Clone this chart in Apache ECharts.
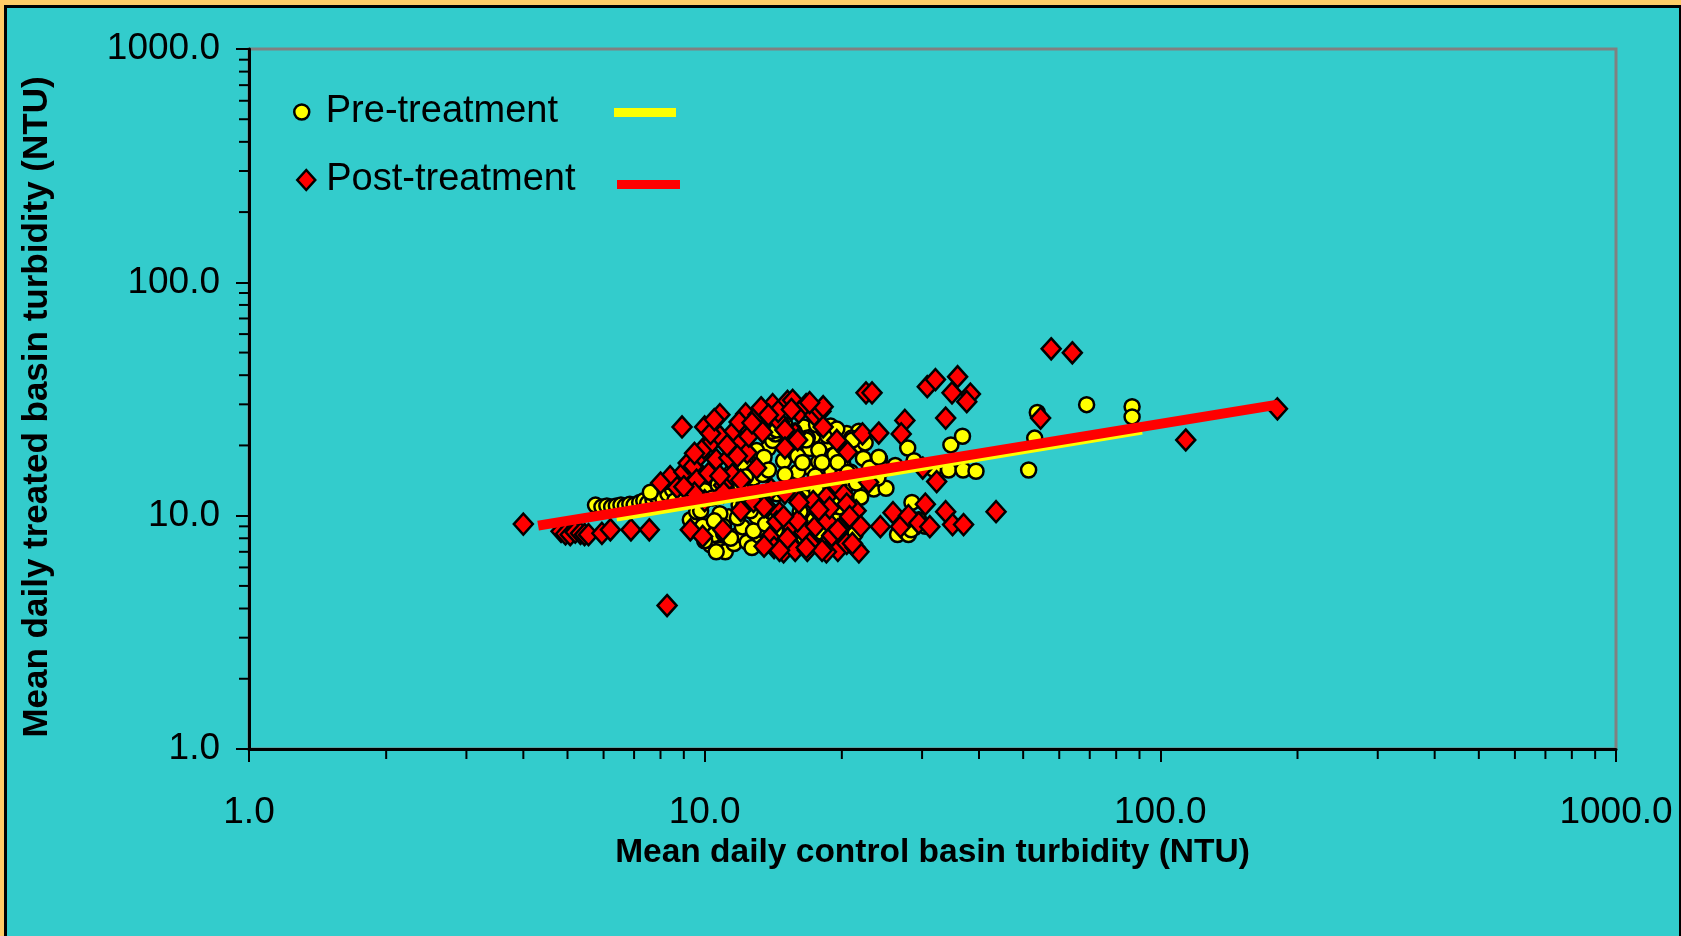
<!DOCTYPE html>
<html>
<head>
<meta charset="utf-8">
<title>Turbidity scatter</title>
<script src="https://cdn.jsdelivr.net/npm/echarts@6.0.0/dist/echarts.min.js"></script>
<style>
html, body { margin: 0; padding: 0; overflow: hidden; width: 1681px; height: 936px; background: #FFCC66; }
#frame { position: absolute; left: 4px; top: 5px; width: 1678px; height: 940px; box-sizing: border-box; border: 3px solid #000; background: #33CCCC; }
#chart { width: 1672px; height: 934px; }
</style>
</head>
<body>
<div id="frame"><div id="chart"></div></div>
<script>
// values, [control NTU, treated NTU]
const preTreatment = [
  [5.76, 11.1], [5.95, 10.9], [6.1, 11.0], [6.25, 10.9], [6.4, 11.0], [6.55, 11.1], [6.7, 11.0], [6.85, 11.2],
  [7.0, 11.1], [7.2, 11.4], [7.35, 11.6], [7.5, 11.3], [7.7, 11.7], [7.85, 12.1], [8.0, 13.5], [8.1, 11.8],
  [8.3, 12.4], [8.5, 12.9], [8.6, 11.6], [8.8, 13.3], [9.0, 12.2], [9.2, 13.8], [7.6, 12.6], [8.2, 14.0],
  [9.3, 9.6], [9.6, 10.4], [9.9, 9.0], [10.3, 7.5], [10.5, 8.3], [10.8, 7.16], [11.0, 8.4], [11.1, 7.0],
  [11.3, 9.9], [11.6, 7.6], [11.9, 8.3], [12.1, 8.95], [12.4, 7.7], [12.7, 7.3], [13.0, 9.9], [13.2, 8.2],
  [13.5, 7.4], [13.9, 7.9], [14.3, 8.6], [14.8, 7.6], [15.3, 8.1], [15.9, 8.8], [16.5, 8.1], [17.2, 7.8],
  [18.0, 8.5], [18.8, 8.0], [19.5, 9.5], [20.1, 8.3], [20.8, 9.1], [21.4, 8.4], [12.6, 10.5], [11.9, 11.1],
  [10.8, 10.2], [14.6, 10.1], [16.2, 10.4], [17.4, 9.6], [18.6, 10.8], [19.8, 10.9], [21.2, 10.2], [22.0, 12.0],
  [9.6, 11.6], [10.0, 12.8], [10.4, 11.9], [10.7, 13.6], [11.2, 12.4], [11.5, 15.5], [11.9, 14.3], [12.2, 16.5],
  [12.5, 12.0], [12.8, 14.5], [13.2, 17.8], [13.5, 15.2], [13.8, 19.5], [14.1, 21.0], [14.3, 22.4], [14.6, 23.6],
  [14.9, 17.2], [15.2, 20.5], [15.5, 21.8], [15.8, 18.5], [16.2, 22.8], [16.5, 24.0], [16.8, 16.2], [17.0, 19.4],
  [17.4, 22.1], [17.8, 17.0], [18.2, 23.5], [18.5, 20.6], [18.9, 24.2], [19.3, 18.2], [19.7, 21.6], [20.1, 16.6],
  [20.5, 22.5], [20.9, 15.4], [21.4, 19.8], [21.8, 23.0], [22.3, 17.6], [22.7, 14.6], [23.5, 13.0], [24.2, 17.5],
  [25.0, 13.1], [24.6, 15.8], [16.0, 15.4], [15.1, 13.1], [14.4, 12.4], [16.6, 12.0], [17.6, 12.8], [18.6, 14.2],
  [19.2, 11.6], [20.3, 13.1], [13.4, 15.0], [12.2, 11.2],
  [13.0, 19.0], [14.0, 23.0], [15.0, 24.5], [15.7, 23.0], [16.8, 21.5], [17.6, 24.5], [18.6, 22.0], [19.5, 23.5],
  [20.5, 19.5], [21.0, 21.5], [22.5, 20.5], [23.0, 16.0], [24.0, 14.5], [12.0, 13.5], [11.0, 9.0], [10.5, 9.5],
  [11.8, 9.8], [12.8, 8.6], [13.6, 9.2], [14.0, 10.4], [10.0, 7.8], [10.6, 7.0], [11.4, 8.0], [9.8, 10.5],
  [19.0, 15.5], [20.0, 14.8], [21.5, 13.8], [17.5, 14.8], [16.0, 18.0], [15.0, 15.0],
  [14.4, 23.3], [15.5, 22.6], [16.7, 21.1], [17.8, 19.1], [16.4, 16.9], [18.1, 16.9], [19.6, 16.9], [21.1, 21.1],
  [24.1, 17.8], [13.5, 17.8], [13.8, 15.7], [12.3, 14.7], [15.5, 12.9], [19.6, 13.9], [20.6, 15.3],
  [26.5, 8.3], [27.3, 9.2], [28.0, 8.3], [28.5, 11.4], [29.5, 9.6], [30.5, 9.0], [28.4, 8.7], [27.9, 19.5],
  [26.2, 16.4], [28.8, 17.2], [31.8, 15.8], [34.3, 15.7], [36.9, 15.7], [39.4, 15.5], [34.7, 20.1], [36.8, 21.9],
  [51.4, 15.7], [53.0, 21.5], [53.7, 27.7], [68.9, 29.9], [86.7, 29.3], [86.7, 26.5]
];

const postTreatment = [
  [4.0, 9.2], [4.84, 8.57], [4.95, 8.35], [5.07, 8.29], [5.2, 8.5], [5.34, 8.4], [5.45, 8.3], [5.56, 8.29],
  [5.95, 8.4], [6.21, 8.7], [6.89, 8.7], [7.56, 8.7], [8.27, 4.12],
  [8.4, 14.7], [8.0, 13.8], [8.7, 13.2], [8.92, 24.0], [9.0, 15.4], [9.2, 16.8], [9.45, 16.3], [9.6, 14.2],
  [9.8, 18.2], [9.96, 19.5], [10.0, 24.0], [10.2, 15.2], [10.4, 20.8], [10.6, 17.4], [10.8, 27.1], [10.8, 21.9],
  [11.0, 13.5], [11.3, 17.7], [11.6, 23.0], [11.5, 15.0], [12.0, 20.5], [12.2, 24.6], [12.3, 27.3], [11.9, 25.2],
  [12.4, 18.6], [12.5, 21.9], [13.1, 27.1], [13.4, 22.8], [13.9, 27.1], [14.1, 29.9], [14.6, 25.2], [15.2, 30.9],
  [15.6, 31.2], [16.1, 27.7], [16.7, 29.9], [17.4, 27.0], [18.0, 28.0], [18.2, 29.3], [18.2, 24.0], [15.8, 22.4],
  [13.0, 16.0], [10.0, 11.6], [9.5, 12.5], [11.0, 12.6],
  [9.0, 13.3], [9.5, 18.5], [10.3, 22.5], [10.5, 25.8], [11.2, 20.0], [11.8, 18.0], [12.7, 25.0], [13.3, 29.0],
  [14.5, 28.0], [17.0, 30.5], [15.5, 28.5], [12.0, 14.2], [10.8, 14.8], [13.0, 12.2], [13.8, 27.0], [15.0, 23.3],
  [16.0, 21.1], [20.6, 18.7], [22.2, 22.4], [24.1, 22.6], [22.6, 33.6], [23.3, 33.6], [15.0, 19.5], [12.8, 11.5],
  [14.0, 13.0], [19.5, 13.5], [18.5, 12.0], [20.2, 12.3], [22.9, 13.9], [16.0, 11.9], [15.0, 12.5], [19.5, 21.0],
  [9.3, 8.7], [9.9, 8.15], [10.96, 8.7], [12.0, 10.5], [13.7, 10.9], [14.6, 10.3], [13.9, 8.1], [14.9, 7.0],
  [14.2, 7.3], [15.5, 9.0], [15.8, 7.1], [16.5, 8.5], [16.8, 7.1], [17.5, 9.0], [17.8, 10.4], [18.2, 7.35],
  [18.6, 9.45], [19.0, 8.2], [19.6, 7.1], [20.5, 7.6], [20.9, 9.8], [21.4, 7.3], [21.5, 10.5],
  [16.0, 9.5], [17.0, 7.6], [15.2, 8.0], [14.4, 9.4], [18.8, 10.8], [19.8, 8.8], [20.5, 11.2], [22.0, 9.0],
  [21.8, 7.0], [18.5, 7.0], [17.3, 11.5], [13.5, 10.9], [14.9, 9.9], [16.1, 11.4], [17.8, 10.6], [19.6, 8.7],
  [20.8, 9.9], [21.1, 7.6], [18.1, 7.1], [16.7, 7.3], [14.6, 7.1], [13.5, 7.4],
  [24.3, 8.97], [25.9, 10.3], [26.9, 8.97], [28.0, 10.0], [29.5, 9.3], [30.5, 11.2], [31.2, 8.97], [32.3, 14.0],
  [33.8, 10.4], [35.0, 9.16], [37.0, 9.16], [43.6, 10.4], [30.1, 16.0], [27.5, 25.6], [27.0, 22.4], [30.8, 35.7],
  [32.1, 38.3], [35.9, 39.4], [34.9, 33.6], [38.3, 33.2], [37.6, 30.8], [33.8, 26.2], [54.6, 26.2], [57.6, 51.9],
  [64.1, 49.9], [113.7, 21.1], [180.7, 28.7]
];

// power trendlines (straight on log-log), end points
const preTrend = [[6.4, 9.87], [91.1, 23.3]];
const postTrend = [[4.31, 9.06], [181, 29.9]];

const axisMin = 1;
const axisMax = 1000;
const minorTicks = [2, 3, 4, 5, 6, 7, 8, 9, 20, 30, 40, 50, 60, 70, 80, 90, 200, 300, 400, 500, 600, 700, 800, 900];

const FONT = 'Liberation Sans, Arial, sans-serif';

const chart = echarts.init(document.getElementById('chart'));

const minorTickSeries = (dim) => ({
  type: 'custom',
  silent: true,
  clip: false,
  z: 1,
  data: minorTicks.map((v) => (dim === 'x' ? [v, axisMin] : [axisMin, v])),
  renderItem: (params, api) => {
    const p = api.coord([api.value(0), api.value(1)]);
    const shape = dim === 'x'
      ? { x1: p[0], y1: p[1], x2: p[0], y2: p[1] + 10 }
      : { x1: p[0] - 10, y1: p[1], x2: p[0], y2: p[1] };
    return { type: 'line', shape, style: { stroke: '#000', lineWidth: 2 } };
  },
});

const logAxis = (extra) => ({
  type: 'log',
  logBase: 10,
  min: axisMin,
  max: axisMax,
  axisLine: { show: true, lineStyle: { color: '#000', width: 3 } },
  axisTick: { show: true, length: 13, lineStyle: { color: '#000', width: 2 } },
  splitLine: { show: false },
  nameLocation: 'middle',
  ...extra,
});

const option = {
  animation: false,
  backgroundColor: 'transparent',
  grid: {
    left: 242,
    right: 63,
    top: 41,
    bottom: 193,
    show: true,
    borderColor: '#808080',
    borderWidth: 3,
    backgroundColor: 'transparent',
  },
  legend: [
    {
      data: ['Pre-treatment'],
      left: 286, top: 85, padding: 0,
      itemWidth: 38, itemHeight: 15,
      icon: 'circle',
      itemStyle: { borderColor: '#000', borderWidth: 2.5 },
      textStyle: { fontSize: 38, fontFamily: FONT, color: '#000' },
      selectedMode: false,
    },
    {
      data: ['Post-treatment'],
      left: 289, top: 153, padding: 0,
      itemWidth: 30, itemHeight: 20,
      icon: 'path://M9,0L18,10L9,20L0,10Z',
      itemStyle: { borderColor: '#000', borderWidth: 2.5 },
      textStyle: { fontSize: 38, fontFamily: FONT, color: '#000', padding: [0, 0, 12, 0] },
      selectedMode: false,
    },
    {
      data: ['Pre-treatment trend'],
      left: 607, top: 100, padding: 0,
      itemWidth: 62, itemHeight: 9,
      icon: 'rect',
      formatter: () => '',
      selectedMode: false,
    },
    {
      data: ['Post-treatment trend'],
      left: 610, top: 172, padding: 0,
      itemWidth: 63, itemHeight: 9,
      icon: 'rect',
      formatter: () => '',
      selectedMode: false,
    },
  ],
  xAxis: logAxis({
    name: 'Mean daily control basin turbidity (NTU)',
    nameGap: 85,
    nameTextStyle: { color: '#000', fontWeight: 'bold', fontFamily: FONT, fontSize: 33.5 },
    axisLabel: {
      color: '#000', fontSize: 37, fontFamily: FONT, margin: 45,
      formatter: (v) => Number(v).toFixed(1),
    },
  }),
  yAxis: logAxis({
    name: 'Mean daily treated basin turbidity (NTU)',
    nameGap: 194,
    nameRotate: 90,
    nameTextStyle: {
      color: '#000', fontWeight: 'bold', fontFamily: FONT, fontSize: 35,
      padding: [0, 16, 0, 0],
    },
    axisLabel: {
      color: '#000', fontSize: 37, fontFamily: FONT, margin: 29,
      padding: [5, 0, 0, 0],
      formatter: (v) => Number(v).toFixed(1),
    },
  }),
  series: [
    minorTickSeries('x'),
    minorTickSeries('y'),
    {
      name: 'Pre-treatment',
      type: 'scatter',
      data: preTreatment,
      symbol: 'circle',
      symbolSize: 15,
      itemStyle: { color: '#FFFF00', borderColor: '#000', borderWidth: 2.5, opacity: 1 },
      z: 2,
    },
    {
      name: 'Post-treatment',
      type: 'scatter',
      data: postTreatment,
      symbol: 'diamond',
      symbolSize: [19, 21],
      itemStyle: { color: '#FF0000', borderColor: '#000', borderWidth: 2.5, opacity: 1 },
      z: 3,
    },
    {
      name: 'Pre-treatment trend',
      type: 'line',
      data: preTrend,
      color: '#FFFF00',
      symbol: 'none',
      lineStyle: { color: '#FFFF00', width: 9, cap: 'butt' },
      itemStyle: { color: '#FFFF00' },
      z: 4,
    },
    {
      name: 'Post-treatment trend',
      type: 'line',
      data: postTrend,
      color: '#FF0000',
      symbol: 'none',
      lineStyle: { color: '#FF0000', width: 10, cap: 'butt' },
      itemStyle: { color: '#FF0000' },
      z: 5,
    },
  ],
};

chart.setOption(option);
window.addEventListener('resize', () => chart.resize());
</script>
</body>
</html>
